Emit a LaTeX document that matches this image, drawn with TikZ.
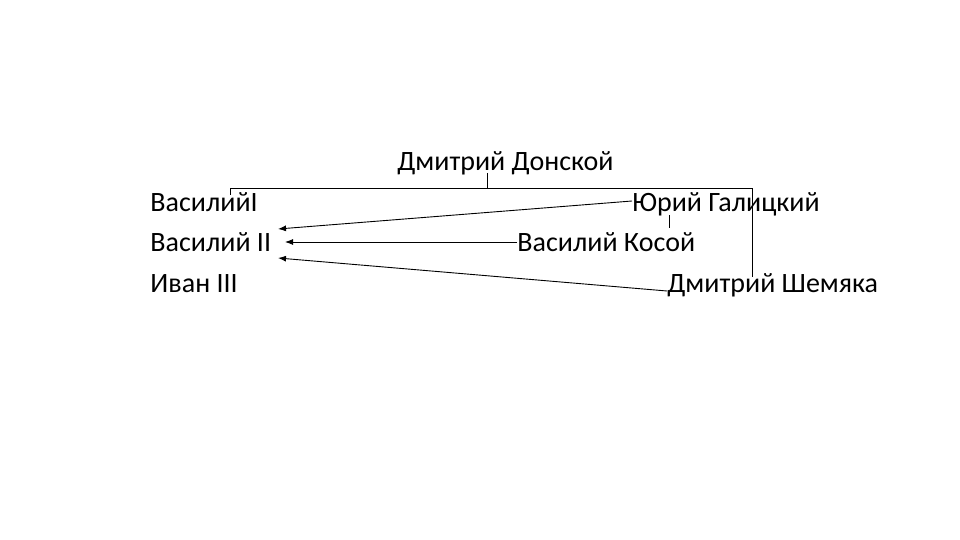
\documentclass[tikz,border=0pt]{standalone}
\usepackage{fontspec}
\setmainfont{Carlito}
\usepackage{tikz}
\usetikzlibrary{arrows.meta}

\begin{document}
\begin{tikzpicture}[x=1pt,y=-1pt, line width=0.9pt,
    person/.style={anchor=base west, inner sep=0pt, font=\fontsize{28}{33}\selectfont},
    succ/.style={-{Latex[length=8pt,width=6pt]}}]
    \useasboundingbox (0,0) rectangle (960,540);

    \node[person](donskoy) at (397,171) {Дмитрий Донской};
    \node[person](vas1) at (150,211) {ВасилийI};
    \node[person](vas2) at (150,251) {Василий II};
    \node[person](ivan) at (150,292) {Иван III};
    \node[person](yuri) at (632,211) {Юрий Галицкий};
    \node[person](kosoy) at (517,251) {Василий Косой};
    \node[person](shemyaka) at (667,292) {Дмитрий Шемяка};

    \coordinate(stem) at (487,188);
    \coordinate(sons l) at (230,188);
    \coordinate(sons r) at (752,188);
    \coordinate(a1) at (278,229);
    \coordinate(a2) at (285,242);
    \coordinate(a3) at (278,258);

    % family tree
    \draw (487,173) -- (stem) (sons l) -- (sons r);
    \draw (sons l) -- (230,195);
    \draw (sons r) -- (752,277);
    \draw (669,215) -- (669,228);

    % succession
    \draw[succ] (yuri.base west) ++(0,-10) -- (a1);
    \draw[succ] (kosoy.base west) ++(0,-9) -- (a2);
    \draw[succ] (shemyaka.base west) ++(0,-1) -- (a3);
\end{tikzpicture}
\end{document}
